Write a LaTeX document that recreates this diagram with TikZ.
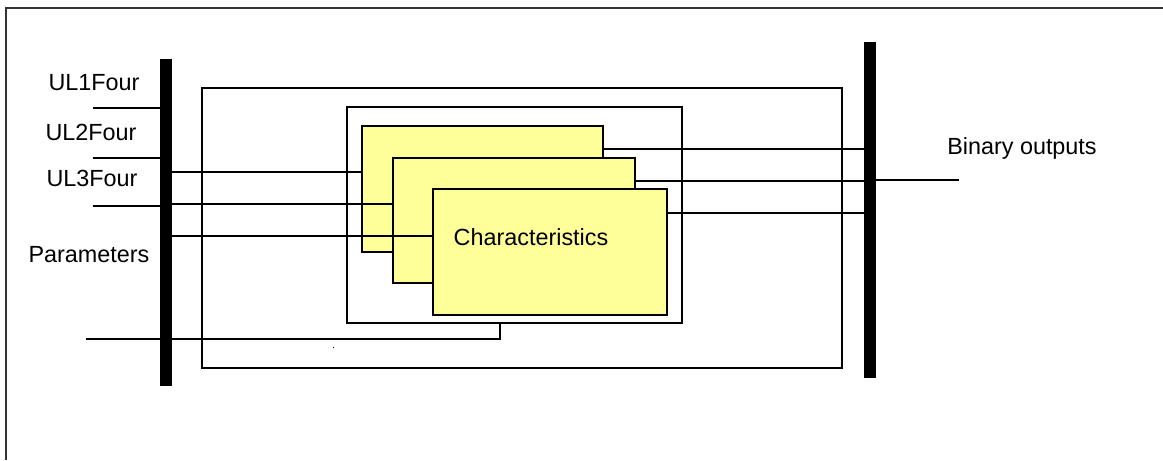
\documentclass[tikz,border=0pt]{standalone}
\usepackage{fontspec}
\setmainfont{Liberation Sans}
\usetikzlibrary{positioning, calc}
\definecolor{charyellow}{RGB}{255,255,153}

\begin{document}
\begin{tikzpicture}[
  x=0.02cm, y=-0.02cm,
  every node/.style={font=\fontsize{13.3}{16}\selectfont},
  frame/.style={draw, line width=0.7pt, inner sep=0pt, outer sep=0pt},
  charbox/.style={frame, fill=charyellow, line width=1pt},
  bus/.style={fill=black, inner sep=0pt, outer sep=0pt, minimum width=0.24cm},
  wire/.style={line width=0.9pt},
  lbl/.style={inner sep=0pt},
]
  \useasboundingbox (0,0) rectangle (1163,460);
  \draw[line width=0.8pt, black!80] (6,460) |- (1163,8);

  % busbars
  \node[bus, minimum height=6.54cm] (lbar) at (166,222.5) {};
  \node[bus, minimum height=6.72cm] (rbar) at (870,210) {};

  % function block
  \node[frame, minimum width=12.8cm, minimum height=5.6cm] (outer) at (522,228) {};
  \node[frame, minimum width=6.7cm, minimum height=4.32cm] (inner) at (514.5,215) {};
  \node[charbox, minimum width=4.82cm, minimum height=2.52cm] (char1) at (482.5,189) {};
  \node[charbox, minimum width=4.84cm, minimum height=2.5cm] (char2) at (514,220.5) {};
  \node[charbox, minimum width=4.68cm, minimum height=2.52cm] (char3) at (550,252) {};
  \node[lbl] (chartxt) at (531,237) {Characteristics};

  % labels
  \node[lbl] (ul1) at (94,83) {UL1Four};
  \node[lbl] (ul2) at (91,132) {UL2Four};
  \node[lbl] (ul3) at (92,178) {UL3Four};
  \node[lbl] (param) at (89,255) {Parameters};
  \node[lbl] (binout) at (1022,148) {Binary outputs};

  \coordinate (in1) at (93,108);
  \coordinate (in2) at (93,158);
  \coordinate (in3) at (93,206);
  \coordinate (in4) at (86,339);
  \coordinate (out) at (959,180);
  \fill (333.5,347.5) circle (0.6);

  % inputs
  \draw[wire] (in1) -- (in1 -| lbar.west);
  \draw[wire] (in2) -- (in2 -| lbar.west);
  \draw[wire] (in3) -- (in3 -| lbar.west);
  \draw[wire] (in4) -| (inner.south -| 500,0);
  \draw[wire] (lbar.east |- 0,172) -- (char1.west |- 0,172);
  \draw[wire] (lbar.east |- 0,204) -- (char2.west |- 0,204);
  \draw[wire] (lbar.east |- 0,236) -- (char3.west |- 0,236);

  % outputs
  \draw[wire] (char1.east |- 0,149) -- (rbar.west |- 0,149);
  \draw[wire] (char2.east |- 0,181) -- (rbar.west |- 0,181);
  \draw[wire] (char3.east |- 0,213) -- (rbar.west |- 0,213);
  \draw[wire] (rbar.east |- out) -- (out);
\end{tikzpicture}
\end{document}
